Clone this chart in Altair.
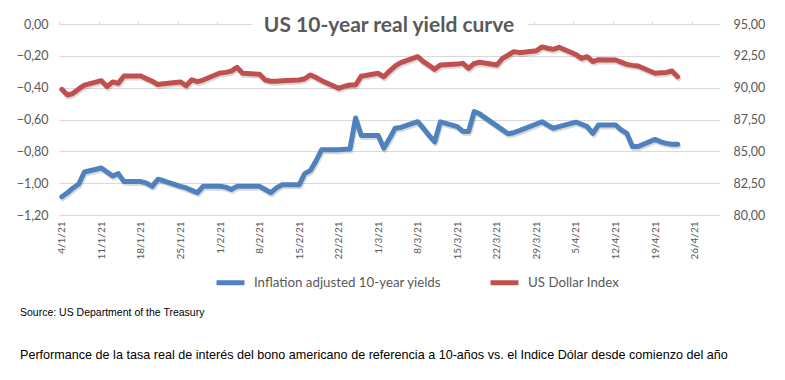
import altair as alt
import pandas as pd

TITLE = "US 10-year real yield curve"
LABEL_BLUE = "Inflation adjusted 10-year yields"
LABEL_RED = "US Dollar Index"
SOURCE = "Source: US Department of the Treasury"
CAPTION = ("Performance de la tasa real de interés del bono americano de referencia "
           "a 10-años vs. el Indice Dólar desde comienzo del año")

dates = [
    "2021-01-04", "2021-01-05", "2021-01-06", "2021-01-07", "2021-01-08",
    "2021-01-11", "2021-01-12", "2021-01-13", "2021-01-14", "2021-01-15",
    "2021-01-18", "2021-01-19", "2021-01-20", "2021-01-21", "2021-01-22",
    "2021-01-25", "2021-01-26", "2021-01-27", "2021-01-28", "2021-01-29",
    "2021-02-01", "2021-02-02", "2021-02-03", "2021-02-04", "2021-02-05",
    "2021-02-08", "2021-02-09", "2021-02-10", "2021-02-11", "2021-02-12",
    "2021-02-15", "2021-02-16", "2021-02-17", "2021-02-18", "2021-02-19",
    "2021-02-22", "2021-02-23", "2021-02-24", "2021-02-25", "2021-02-26",
    "2021-03-01", "2021-03-02", "2021-03-03", "2021-03-04", "2021-03-05",
    "2021-03-08", "2021-03-09", "2021-03-10", "2021-03-11", "2021-03-12",
    "2021-03-15", "2021-03-16", "2021-03-17", "2021-03-18", "2021-03-19",
    "2021-03-22", "2021-03-23", "2021-03-24", "2021-03-25", "2021-03-26",
    "2021-03-29", "2021-03-30", "2021-03-31", "2021-04-01", "2021-04-02",
    "2021-04-05", "2021-04-06", "2021-04-07", "2021-04-08", "2021-04-09",
    "2021-04-12", "2021-04-13", "2021-04-14", "2021-04-15", "2021-04-16",
    "2021-04-19", "2021-04-20", "2021-04-21", "2021-04-22", "2021-04-23",
]

real_yield = [
    -1.085, -1.06, -1.03, -1.005, -0.93,
    -0.905, -0.93, -0.955, -0.94, -0.99,
    -0.99, -1.00, -1.02, -0.975, -0.985,
    -1.02, -1.03, -1.045, -1.06, -1.02,
    -1.02, -1.025, -1.04, -1.02, -1.02,
    -1.02, -1.04, -1.06, -1.03, -1.01,
    -1.01, -0.94, -0.92, -0.86, -0.79,
    -0.79, -0.787, -0.785, -0.59, -0.70,
    -0.70, -0.78, -0.72, -0.655, -0.65,
    -0.614, -0.655, -0.70, -0.74, -0.615,
    -0.645, -0.675, -0.676, -0.55, -0.566,
    -0.64, -0.665, -0.69, -0.683, -0.67,
    -0.628, -0.614, -0.635, -0.655, -0.645,
    -0.617, -0.63, -0.645, -0.687, -0.634,
    -0.634, -0.665, -0.687, -0.77, -0.77,
    -0.725, -0.74, -0.75, -0.755, -0.755,
]

usd_index = [
    89.87, 89.42, 89.56, 89.90, 90.20,
    90.55, 90.08, 90.45, 90.34, 90.92,
    90.92, 90.70, 90.50, 90.25, 90.30,
    90.45, 90.15, 90.62, 90.47, 90.60,
    91.15, 91.20, 91.30, 91.60, 91.13,
    91.05, 90.60, 90.50, 90.50, 90.55,
    90.60, 90.70, 91.00, 90.80, 90.55,
    89.95, 90.10, 90.21, 90.21, 90.90,
    91.13, 90.85, 91.30, 91.70, 91.96,
    92.43, 92.05, 91.75, 91.44, 91.78,
    91.85, 91.91, 91.52, 91.90, 92.00,
    91.78, 92.30, 92.55, 92.83, 92.75,
    92.90, 93.20, 93.10, 93.01, 93.17,
    92.60, 92.30, 92.43, 92.05, 92.20,
    92.17, 92.00, 91.83, 91.75, 91.70,
    91.13, 91.18, 91.20, 91.31, 90.86,
]

label_dates = [
    (1, 4), (1, 11), (1, 18), (1, 25), (2, 1), (2, 8), (2, 15), (2, 22),
    (3, 1), (3, 8), (3, 15), (3, 22), (3, 29), (4, 5), (4, 12), (4, 19), (4, 26),
]
boundary_dates = [
    (1, 3), (1, 10), (1, 17), (1, 24), (1, 31), (2, 7), (2, 14), (2, 21),
    (2, 28), (3, 7), (3, 14), (3, 21), (3, 28), (4, 4), (4, 11), (4, 18), (4, 25),
]
left_ticks = [-1.2, -1.0, -0.8, -0.6, -0.4, -0.2, 0.0]
right_ticks = [80.0, 82.5, 85.0, 87.5, 90.0, 92.5, 95.0]

BLUE = "#4F81BD"
RED = "#C0504D"
TXT = "#595959"
GRID = "#D9D9D9"

df = pd.DataFrame({
    "date": [d + "T00:00:00" for d in dates],
    "yield": real_yield,
    "usd": usd_index,
})

x_scale = alt.Scale(domain=[alt.DateTime(year=2021, month=1, date=3, hours=12),
                            alt.DateTime(year=2021, month=4, date=30, hours=12)])
y_left = alt.Scale(domain=[-1.2, 0.0], nice=False, zero=False)
y_right = alt.Scale(domain=[80.0, 95.0], nice=False, zero=False)
comma = "replace(format(datum.value, '.2f'), '.', ',')"

base = alt.Chart(df)
line_kw = dict(strokeWidth=5, strokeJoin="round", strokeCap="round")

x_bottom = alt.Axis(
    values=[alt.DateTime(year=2021, month=m, date=d) for m, d in label_dates],
    format="%-d/%-m/%y", labelAngle=270, labelFontSize=10, labelColor=TXT,
    labelFont="Lato", labelPadding=6, domain=False, ticks=False, grid=False,
    title=None, labelOverlap=False,
)
x_top = alt.Axis(
    orient="top",
    values=[alt.DateTime(year=2021, month=m, date=d, hours=12) for m, d in boundary_dates],
    labels=False, domain=False, ticks=True, tickColor=GRID, tickSize=3,
    grid=False, title=None,
)
y_left_axis = alt.Axis(
    values=left_ticks, labelExpr=comma, grid=True, gridColor=GRID,
    domain=False, ticks=False, labelColor=TXT, labelFont="Lato",
    labelFontSize=12.5, labelPadding=11, title=None)
y_right_axis = alt.Axis(
    orient="right", values=right_ticks, labelExpr=comma, grid=False,
    domain=False, ticks=False, labelColor=TXT, labelFont="Lato",
    labelFontSize=12.5, labelPadding=13, title=None)

blue_shadow = base.mark_line(color="#000000", opacity=0.15, xOffset=1, yOffset=2, **line_kw).encode(
    x=alt.X("date:T", scale=x_scale, axis=x_bottom),
    y=alt.Y("yield:Q", scale=y_left, axis=y_left_axis),
)
blue = base.mark_line(**line_kw).encode(
    x=alt.X("date:T", scale=x_scale, axis=x_bottom),
    y=alt.Y("yield:Q", scale=y_left, axis=y_left_axis),
    color=alt.ColorDatum(LABEL_BLUE),
)
red_shadow = base.mark_line(color="#000000", opacity=0.15, xOffset=1, yOffset=2, **line_kw).encode(
    x=alt.X("date:T", scale=x_scale, axis=x_top),
    y=alt.Y("usd:Q", scale=y_right, axis=y_right_axis),
)
red = base.mark_line(**line_kw).encode(
    x=alt.X("date:T", scale=x_scale, axis=x_top),
    y=alt.Y("usd:Q", scale=y_right, axis=y_right_axis),
    color=alt.ColorDatum(LABEL_RED),
)

one = alt.Chart(pd.DataFrame({"t": [TITLE], "s": [SOURCE], "c": [CAPTION]}))
title_box = one.mark_rect(color="white").encode(
    x=alt.value(193), x2=alt.value(469), y=alt.value(-3), y2=alt.value(3))
title_text = one.mark_text(font="Lato", fontWeight="bold", fontSize=21, color=TXT,
                           align="center", baseline="alphabetic").encode(
    text="t:N", x=alt.value(330), y=alt.value(8))
source_text = one.mark_text(font="Liberation Sans", fontSize=10.5, color="#000000",
                            align="left", baseline="alphabetic").encode(
    text="s:N", x=alt.value(-39), y=alt.value(292))
caption_text = one.mark_text(font="Liberation Sans", fontSize=12.6, color="#000000",
                             align="left", baseline="alphabetic").encode(
    text="c:N", x=alt.value(-39), y=alt.value(335))

chart = alt.layer(
    alt.layer(blue_shadow, blue),
    alt.layer(red_shadow, red),
    title_box, title_text, source_text, caption_text,
).resolve_scale(y="independent").resolve_axis(x="independent", y="independent").properties(
    width=661, height=191,
    autosize=alt.AutoSizeParams(type="none"),
    padding={"left": 51, "top": 16, "right": 57, "bottom": 150},
).configure_view(stroke=None).configure_range(
    category=[BLUE, RED]
).configure_legend(
    orient="none", legendX=155, legendY=242, direction="horizontal",
    symbolType="stroke", symbolStrokeWidth=5, symbolSize=780,
    labelFont="Lato", labelFontSize=13.3, labelColor=TXT, labelOffset=7,
    columnPadding=38, padding=0, labelLimit=400,
)

chart.save("out.html", embed_options={"renderer": "svg", "actions": False})
